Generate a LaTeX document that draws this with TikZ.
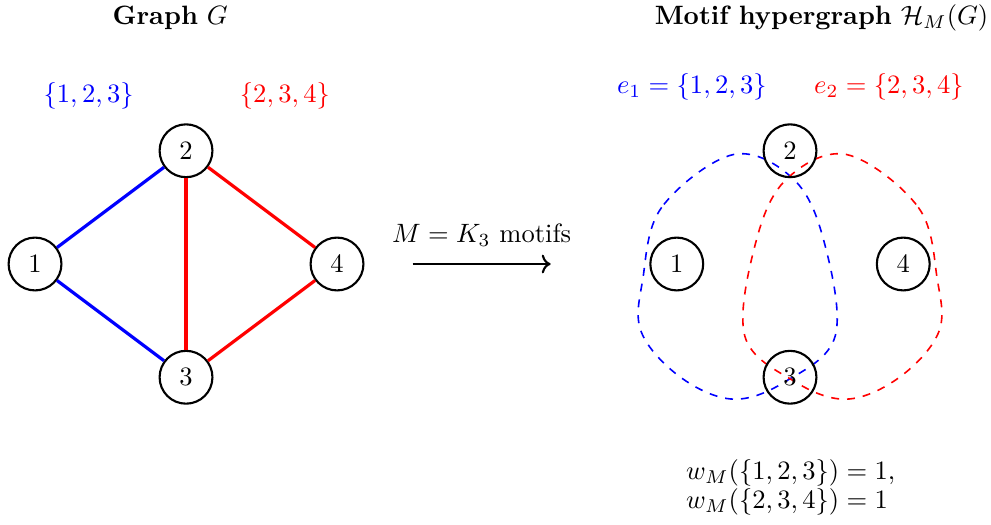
\documentclass[tikz,border=0pt]{standalone}
\usetikzlibrary{arrows.meta}
\begin{document}
\begin{tikzpicture}
\tikzset{
  vtx/.style={circle,draw,thick,minimum size=0.7cm,inner sep=0pt},
  gedge/.style={very thick},
  hedge/.style={dashed,semithick},
}
\useasboundingbox (-0.464,-3.444) rectangle (12.662,3.497);
% left graph
\node[vtx] (a1) at (0,0) {1};
\node[vtx] (a2) at (2,1.5) {2};
\node[vtx] (a3) at (2,-1.5) {3};
\node[vtx] (a4) at (4,0) {4};
\draw[gedge,blue] (a1) -- (a2);
\draw[gedge,blue] (a1) -- (a3);
\draw[gedge,blue] (a2) -- (a3);
\draw[gedge,red] (a2) -- (a3);
\draw[gedge,red] (a2) -- (a4);
\draw[gedge,red] (a3) -- (a4);
\node (tg) at (1.79,3.26) {\textbf{Graph} $G$};
\node[blue] (l1) at (0.71,2.23) {$\{1,2,3\}$};
\node[red] (l2) at (3.31,2.23) {$\{2,3,4\}$};
% arrow
\coordinate (p) at (5.0,0);
\coordinate (q) at (6.83,0);
\draw[->,thick] (p) -- node[above=3pt] (al) {$M = K_3$ motifs} (q);
% hypergraph
\draw[hedge,blue] plot[smooth cycle,tension=0.6] coordinates {
  (9.25,1.45) (8.3,0.75) (8.05,-0.2) (8.03,-0.9) (8.55,-1.5) (9.25,-1.79)
  (9.95,-1.55) (10.6,-0.95) (10.45,0.3) (10.05,1.12) };
\draw[hedge,red] plot[smooth cycle,tension=0.6] coordinates {
  (10.75,1.45) (11.7,0.75) (11.95,-0.2) (11.97,-0.9) (11.45,-1.5) (10.75,-1.79)
  (10.05,-1.55) (9.4,-0.95) (9.55,0.3) (9.95,1.12) };
\node[vtx] (b1) at (8.5,0) {1};
\node[vtx] (b2) at (10,1.5) {2};
\node[vtx] (b3) at (10,-1.5) {3};
\node[vtx] (b4) at (11.5,0) {4};
\node[anchor=east] (th) at (12.75,3.26) {\textbf{Motif hypergraph} $\mathcal{H}_M(G)$};
\node[blue] (e1) at (8.70,2.34) {$e_1 = \{1,2,3\}$};
\node[red] (e2) at (11.31,2.34) {$e_2 = \{2,3,4\}$};
\node[align=left,anchor=west] (w) at (8.50,-2.96)
  {$w_M(\{1,2,3\}) = 1,$\\[-1pt] $w_M(\{2,3,4\}) = 1$};
\end{tikzpicture}
\end{document}
